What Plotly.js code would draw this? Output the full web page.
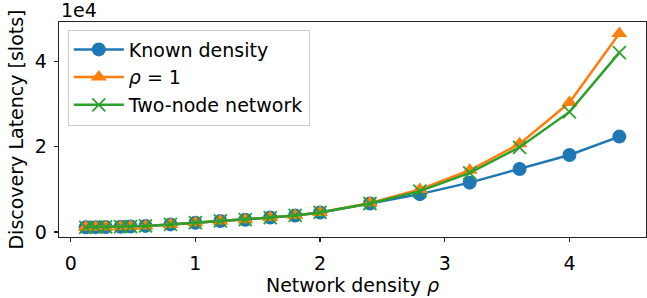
<!DOCTYPE html>
<html>
<head>
<meta charset="utf-8">
<script src="https://cdn.plot.ly/plotly-3.0.1.min.js"></script>
<style>
html,body{margin:0;padding:0;background:#fff;}
#chart{width:647px;height:298px;}
</style>
</head>
<body>
<div id="chart"></div>
<script>
// Network density rho
const density = [0.12, 0.2, 0.28, 0.4, 0.48, 0.6, 0.8, 1.0, 1.2, 1.4, 1.6, 1.8, 2.0, 2.4, 2.8, 3.2, 3.6, 4.0, 4.4];
// Discovery latency [slots]
const knownDensity = [1100, 1150, 1200, 1250, 1300, 1450, 1800, 2200, 2600, 2900, 3400, 3900, 4600, 6700, 8900, 11600, 14800, 18100, 22400];
const rhoOne       = [1100, 1150, 1200, 1250, 1300, 1450, 1800, 2200, 2600, 2900, 3400, 3900, 4600, 6800, 10000, 14500, 20700, 30400, 46600];
const twoNode      = [1100, 1150, 1200, 1250, 1300, 1450, 1800, 2200, 2600, 2900, 3400, 3900, 4600, 6700, 9600, 13900, 19900, 28200, 42100];
const seriesNames = ['Known density', '<i>\u03C1</i> = 1', 'Two-node network'];
const xTicks = [0, 1, 2, 3, 4];
const yTickVals = [0, 20000, 40000];
const yTickText = ['0', '2', '4'];

const colors = ['#1f77b4', '#ff7f0e', '#2ca02c'];
const font = 'DejaVu Sans, sans-serif';
const fs = 19;

const traces = [
  {x: density, y: knownDensity, name: seriesNames[0], mode: 'lines+markers', legendgroup: 'a',
   line: {color: colors[0], width: 2.5},
   marker: {symbol: 'circle', size: 14, color: colors[0]}},
  {x: density, y: rhoOne, name: seriesNames[1], mode: 'lines+markers', legendgroup: 'b',
   line: {color: colors[1], width: 2.5},
   marker: {symbol: 'triangle-up', size: 14, color: colors[1]}},
  {x: density, y: twoNode, name: seriesNames[2], mode: 'lines+markers', legendgroup: 'c',
   line: {color: colors[2], width: 2.5},
   marker: {symbol: 'x-thin', size: 13, color: colors[2], line: {color: colors[2], width: 1.8}}}
];

const layout = {
  width: 647, height: 298,
  margin: {l: 59, r: 1, t: 22, b: 61},
  paper_bgcolor: '#fff', plot_bgcolor: '#fff',
  font: {family: font, size: fs, color: '#000'},
  showlegend: true,
  legend: {x: 0.015, y: 0.965, xanchor: 'left', yanchor: 'top',
    bgcolor: 'rgba(255,255,255,0.8)', bordercolor: '#cccccc', borderwidth: 1,
    font: {family: font, size: fs, color: '#000'}, tracegroupgap: 0, itemwidth: 50},
  xaxis: {
    range: [-0.094, 4.614], tickvals: xTicks, ticktext: xTicks.map(String),
    ticks: 'outside', ticklen: 4, tickwidth: 1.2, tickcolor: '#222',
    showline: true, linecolor: '#222', linewidth: 1.3, mirror: true,
    showgrid: false, zeroline: false, automargin: false, ticklabelstandoff: 5,
    tickfont: {family: font, size: fs, color: '#000'},
    title: {text: 'Network density <i>\u03C1</i>', font: {family: font, size: fs, color: '#000'}, standoff: 3}
  },
  yaxis: {
    range: [-1160, 49300], tickvals: yTickVals, ticktext: yTickText,
    ticks: 'outside', ticklen: 4, tickwidth: 1.2, tickcolor: '#222',
    showline: true, linecolor: '#222', linewidth: 1.3, mirror: true,
    showgrid: false, zeroline: false, automargin: false, ticklabelstandoff: 3,
    tickfont: {family: font, size: fs, color: '#000'},
    title: {text: 'Discovery Latency [slots]', font: {family: font, size: fs, color: '#000'}, standoff: 6}
  },
  annotations: [{
    text: '1e4', xref: 'paper', yref: 'paper', x: 0, y: 1, xanchor: 'left', yanchor: 'bottom',
    showarrow: false, font: {family: font, size: fs, color: '#000'}, yshift: -1
  }]
};

Plotly.newPlot('chart', traces, layout, {displayModeBar: false, staticPlot: true});
</script>
</body>
</html>
